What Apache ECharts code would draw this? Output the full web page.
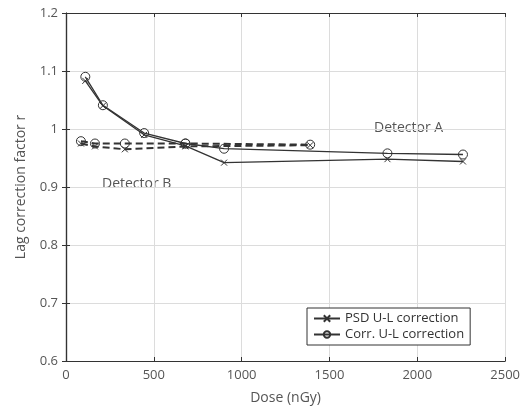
<!DOCTYPE html>
<html><head><meta charset="utf-8">
<script src="https://cdn.jsdelivr.net/npm/echarts@6/dist/echarts.min.js"></script>
<style>html,body{margin:0;padding:0;background:#fff}#c{width:523px;height:418px}</style>
</head><body><div id="c"></div>
<script>
const doseA = [110, 210, 445, 680, 900, 1830, 2260];
const psdA  = [1.083, 1.040, 0.990, 0.971, 0.942, 0.948, 0.944];
const corrA = [1.090, 1.041, 0.993, 0.975, 0.966, 0.958, 0.956];
const doseB = [85, 165, 335, 680, 1390];
const psdB  = [0.975, 0.970, 0.965, 0.970, 0.972];
const corrB = [0.979, 0.975, 0.975, 0.975, 0.973];
const xTicks = [0, 500, 1000, 1500, 2000, 2500];
const yTicks = [0.6, 0.7, 0.8, 0.9, 1.0, 1.1, 1.2];
const nameP = 'PSD U-L correction', nameC = 'Corr. U-L correction';
const txt = '#555', ax = '#333', font = 'Open Sans';
const xSym = 'path://M0,0L10,10M10,0L0,10';
const oSym = 'path://M10,5A5,5,0,1,1,0,5A5,5,0,1,1,10,5Z';
const zip = (a, b) => a.map((v, i) => [v, b[i]]);
function ser(name, x, y, sym, size, dashed, lw) {
  return { name, type: 'line', data: zip(x, y), symbol: sym, symbolSize: size,
    lineStyle: { color: ax, width: lw, type: dashed ? [7, 4] : 'solid' },
    itemStyle: { color: sym === oSym ? 'rgba(0,0,0,0)' : ax, borderColor: ax, borderWidth: 1 },
    emphasis: { disabled: true }, animation: false, z: 3 };
}
const chart = echarts.init(document.getElementById('c'));
chart.setOption({
  backgroundColor: '#fff',
  grid: { left: 66, right: 5, top: 13, bottom: 57 },
  xAxis: [{ type: 'value', min: 0, max: 2500, interval: 500,
    name: 'Dose (nGy)', nameLocation: 'middle', nameGap: 30,
    nameTextStyle: { color: txt, fontFamily: font, fontSize: 14 },
    axisLine: { show: true, lineStyle: { color: ax, width: 1.2 } },
    axisTick: { show: true, inside: true, length: 4, lineStyle: { color: ax } },
    axisLabel: { color: txt, fontFamily: font, fontSize: 13, margin: 8, formatter: v => xTicks.includes(v) ? String(v) : '' },
    splitLine: { show: true, lineStyle: { color: '#dcdcdc' } } },
   { type: 'value', position: 'top', min: 0, max: 2500, interval: 500,
    axisLine: { show: true, lineStyle: { color: ax, width: 1.2 } },
    axisTick: { show: true, inside: true, length: 4, lineStyle: { color: ax } },
    axisLabel: { show: false }, splitLine: { show: false } }],
  yAxis: [{ type: 'value', min: 0.6, max: 1.2, interval: 0.1,
    name: 'Lag correction factor r', nameLocation: 'middle', nameGap: 38,
    nameTextStyle: { color: txt, fontFamily: font, fontSize: 14 },
    axisLine: { show: true, lineStyle: { color: ax, width: 1.2 } },
    axisTick: { show: true, inside: true, length: 4, lineStyle: { color: ax } },
    axisLabel: { color: txt, fontFamily: font, fontSize: 13, margin: 8,
      formatter: v => { const r = Math.round(v * 10) / 10; return yTicks.includes(r) ? String(r) : ''; } },
    splitLine: { show: true, lineStyle: { color: '#dcdcdc' } } },
   { type: 'value', position: 'right', min: 0.6, max: 1.2, interval: 0.1,
    axisLine: { show: true, lineStyle: { color: ax, width: 1.2 } },
    axisTick: { show: true, inside: true, length: 4, lineStyle: { color: ax } },
    axisLabel: { show: false }, splitLine: { show: false } }],
  legend: { data: [nameP, nameC], orient: 'vertical', left: 307, top: 308,
    width: 175, padding: [4, 6, 4, 6], itemGap: 3, itemWidth: 26, itemHeight: 8,
    backgroundColor: '#fff', borderColor: ax, borderWidth: 1, borderRadius: 0,
    textStyle: { color: '#333', fontFamily: font, fontSize: 13 }, selectedMode: false },
  series: [
    ser(nameP, doseA, psdA, xSym, 6, false, 1.3),
    ser(nameC, doseA, corrA, oSym, 9, false, 1.3),
    ser(nameP, doseB, psdB, xSym, 6, true, 2),
    ser(nameC, doseB, corrB, oSym, 9, true, 2)
  ],
  graphic: [
    { type: 'text', left: 374, top: 121, style: { text: 'Detector A', fill: txt, font: '14px "Open Sans"' } },
    { type: 'text', left: 102, top: 177, style: { text: 'Detector B', fill: txt, font: '14px "Open Sans"' } }
  ]
});
</script></body></html>
